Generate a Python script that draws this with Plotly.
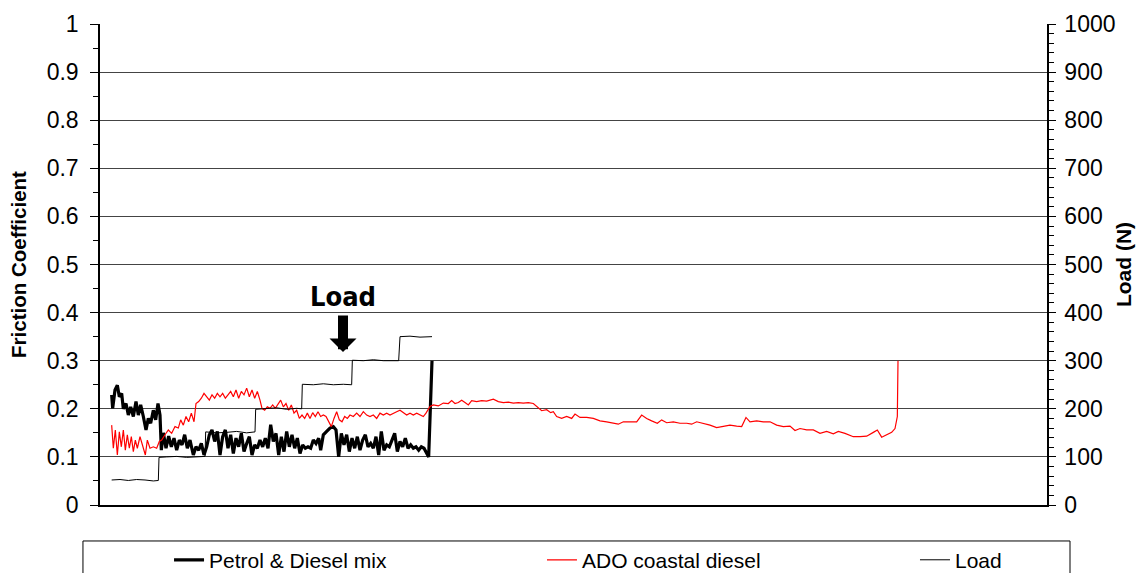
import plotly.graph_objects as go

# ---------------- data (time in arbitrary sample units) ----------------
petrol_t = [65, 68, 75, 82, 88, 95, 100, 108, 115, 122, 130, 138, 145, 152, 160, 168, 175, 182, 190, 197,
            204, 210, 214, 220, 228, 236, 244, 252, 260, 268, 276, 284, 292, 300, 310, 318, 326, 334, 342,
            350, 358, 366, 374, 382, 390, 398, 406, 414, 422, 430, 438, 446, 454, 462, 470, 478, 486, 494,
            502, 510, 518, 526, 534, 542, 550, 558, 566, 574, 582, 590, 598, 606, 614, 622, 630, 638, 646,
            654, 662, 670, 678, 686, 692, 700, 710, 720, 730, 738, 746, 754, 762, 770, 778, 786, 794, 802,
            810, 818, 826, 834, 842, 850, 858, 866, 874, 882, 890, 898, 906, 914, 922, 930, 938, 946, 954,
            962, 970, 978, 986, 994, 1002, 1010, 1016, 1026]
petrol_mu = [0.229, 0.201, 0.239, 0.249, 0.225, 0.232, 0.200, 0.211, 0.187, 0.204, 0.184, 0.215, 0.187, 0.208,
             0.184, 0.156, 0.180, 0.170, 0.197, 0.177, 0.211, 0.187, 0.114, 0.150, 0.118, 0.143, 0.121, 0.139,
             0.114, 0.135, 0.125, 0.146, 0.118, 0.135, 0.104, 0.121, 0.114, 0.128, 0.104, 0.121, 0.146, 0.156,
             0.132, 0.153, 0.104, 0.142, 0.156, 0.118, 0.146, 0.107, 0.139, 0.121, 0.149, 0.111, 0.128, 0.142,
             0.104, 0.125, 0.118, 0.135, 0.121, 0.139, 0.118, 0.167, 0.132, 0.149, 0.104, 0.142, 0.111, 0.153,
             0.121, 0.146, 0.118, 0.139, 0.107, 0.125, 0.118, 0.121, 0.118, 0.135, 0.128, 0.139, 0.114, 0.146,
             0.153, 0.160, 0.163, 0.156, 0.100, 0.149, 0.125, 0.146, 0.111, 0.139, 0.118, 0.142, 0.114, 0.135,
             0.146, 0.121, 0.128, 0.118, 0.142, 0.104, 0.153, 0.114, 0.125, 0.121, 0.135, 0.149, 0.111, 0.132,
             0.121, 0.139, 0.118, 0.125, 0.118, 0.121, 0.114, 0.121, 0.118, 0.107, 0.100, 0.300]

ado_t = [65, 70, 76, 82, 88, 94, 100, 106, 112, 118,
         124, 130, 136, 142, 150, 158, 166, 172, 180, 190,
         200, 208, 215, 225, 235, 245, 255, 265, 272, 280,
         288, 296, 304, 312, 318, 326, 334, 342, 350, 358,
         366, 374, 382, 390, 398, 406, 414, 422, 430, 438,
         446, 454, 462, 470, 478, 486, 494, 502, 510, 516,
         524, 532, 540, 548, 556, 564, 572, 580, 588, 596,
         604, 612, 620, 628, 636, 644, 652, 660, 668, 676,
         684, 692, 700, 708, 716, 724, 732, 740, 748, 756,
         764, 772, 780, 790, 800, 810, 820, 830, 840, 850,
         860, 870, 880, 890, 900, 910, 920, 930, 940, 950,
         960, 970, 980, 990, 1000, 1008,
         1020, 1030, 1045, 1060, 1075, 1085, 1095, 1105, 1115, 1125,
         1135, 1145, 1160, 1175, 1190, 1210, 1225, 1240, 1255, 1270,
         1285, 1300, 1315, 1330, 1345, 1355, 1370, 1382, 1390, 1400,
         1415, 1430, 1445, 1455, 1470, 1490, 1510, 1530, 1550, 1570,
         1585, 1600, 1620, 1640, 1655, 1670, 1685, 1702, 1715, 1730,
         1750, 1770, 1790, 1805, 1820, 1840, 1860, 1880, 1900, 1920,
         1940, 1955, 1968, 1980, 2000, 2020, 2040, 2060, 2080, 2100,
         2115, 2130, 2150, 2170, 2190, 2210, 2230, 2245, 2265, 2290,
         2310, 2330, 2350, 2362, 2375, 2390, 2405, 2415, 2422, 2424]
ado_mu = [0.166, 0.118, 0.156, 0.104, 0.152, 0.121, 0.156, 0.114, 0.146, 0.118,
          0.142, 0.111, 0.135, 0.118, 0.142, 0.125, 0.104, 0.135, 0.118, 0.121,
          0.118, 0.132, 0.135, 0.146, 0.156, 0.149, 0.163, 0.160, 0.177, 0.166,
          0.184, 0.173, 0.191, 0.173, 0.211, 0.215, 0.222, 0.232, 0.225, 0.218,
          0.229, 0.222, 0.232, 0.225, 0.232, 0.222, 0.229, 0.236, 0.225, 0.239,
          0.222, 0.236, 0.229, 0.243, 0.225, 0.239, 0.222, 0.236, 0.218, 0.201,
          0.197, 0.204, 0.201, 0.208, 0.201, 0.211, 0.218, 0.204, 0.211, 0.197,
          0.208, 0.191, 0.197, 0.180, 0.187, 0.180, 0.191, 0.180, 0.192, 0.184,
          0.194, 0.184, 0.187, 0.184, 0.173, 0.163, 0.180, 0.194, 0.177, 0.173,
          0.184, 0.180, 0.187, 0.184, 0.191, 0.184, 0.194, 0.187, 0.184, 0.187,
          0.180, 0.191, 0.187, 0.191, 0.187, 0.191, 0.194, 0.197, 0.191, 0.187,
          0.191, 0.187, 0.191, 0.187, 0.184, 0.191,
          0.205, 0.208, 0.206, 0.212, 0.211, 0.217, 0.211, 0.213, 0.218, 0.213,
          0.208, 0.217, 0.215, 0.217, 0.216, 0.220, 0.215, 0.213, 0.214, 0.212,
          0.213, 0.212, 0.213, 0.211, 0.201, 0.196, 0.198, 0.192, 0.194, 0.184,
          0.180, 0.184, 0.180, 0.189, 0.182, 0.182, 0.180, 0.175, 0.173, 0.171,
          0.168, 0.173, 0.173, 0.173, 0.187, 0.180, 0.175, 0.170, 0.177, 0.171,
          0.173, 0.170, 0.170, 0.168, 0.173, 0.170, 0.166, 0.161, 0.163, 0.166,
          0.164, 0.163, 0.182, 0.173, 0.175, 0.173, 0.173, 0.166, 0.163, 0.164,
          0.155, 0.159, 0.156, 0.156, 0.149, 0.153, 0.148, 0.153, 0.149, 0.142,
          0.142, 0.143, 0.151, 0.156, 0.141, 0.146, 0.151, 0.159, 0.184, 0.300]

load_t = [65, 90, 115, 140, 165, 190, 205, 207, 230, 260, 290, 320, 345, 347, 380, 410, 440, 470, 495,
          497, 530, 560, 590, 620, 635, 637, 670, 700, 730, 760, 785, 787, 820, 850, 880, 910, 926, 930,
          960, 990, 1026]
load_n = [52, 53, 51, 53, 52, 50, 51, 99, 100, 101, 99, 100, 101, 152, 150, 151, 153, 150, 152,
          199, 200, 202, 199, 201, 200, 251, 250, 252, 250, 251, 250, 301, 300, 302, 300, 301, 300, 350,
          351, 349, 350]

series_names = ["Petrol & Diesel mix", "ADO coastal diesel", "Load"]
left_ticks = [0, 0.1, 0.2, 0.3, 0.4, 0.5, 0.6, 0.7, 0.8, 0.9, 1]
right_ticks = [0, 100, 200, 300, 400, 500, 600, 700, 800, 900, 1000]
arrow_t, arrow_mu = 759, 0.318

FONT = "Liberation Sans, Arial, sans-serif"

fig = go.Figure()
fig.add_trace(go.Scatter(x=petrol_t, y=petrol_mu, name=series_names[0], mode="lines",
                         line=dict(color="black", width=3.2), legend="legend"))
fig.add_trace(go.Scatter(x=ado_t, y=ado_mu, name=series_names[1], mode="lines",
                         line=dict(color="#ff0000", width=1.2), legend="legend2"))
fig.add_trace(go.Scatter(x=load_t, y=load_n, name=series_names[2], mode="lines", yaxis="y2",
                         line=dict(color="black", width=1), legend="legend3"))

leg_common = dict(orientation="h", xanchor="left", y=-0.072, yanchor="top",
                  font=dict(size=21), bgcolor="rgba(0,0,0,0)", borderwidth=0)

fig.update_layout(
    width=1145, height=573,
    margin=dict(l=100, r=98, t=24, b=68, autoexpand=False),
    plot_bgcolor="white", paper_bgcolor="white",
    font=dict(family=FONT, color="black", size=23),
    xaxis=dict(range=[30, 2871], showgrid=False, zeroline=False, showticklabels=False,
               ticks="", showline=True, linecolor="black", linewidth=1.5),
    yaxis=dict(range=[0, 1], tickvals=left_ticks, ticktext=[f"{v:g}" for v in left_ticks],
               showgrid=True, gridcolor="#444", gridwidth=1, zeroline=False,
               showline=True, linecolor="black", linewidth=1.5,
               ticks="outside", ticklen=8, tickcolor="black", ticklabelstandoff=7,
               minor=dict(dtick=0.05, ticks="outside", ticklen=5, tickcolor="black", showgrid=False),
               tickfont=dict(size=23),
               title=dict(text="<b>Friction Coefficient</b>", font=dict(size=20.5), standoff=14)),
    yaxis2=dict(range=[0, 1000], tickvals=right_ticks, overlaying="y", side="right",
                showgrid=False, zeroline=False, showline=True, linecolor="black", linewidth=1.5,
                ticks="outside", ticklen=7, tickcolor="black", ticklabelstandoff=4,
                minor=dict(dtick=20, ticks="outside", ticklen=5, tickcolor="black", showgrid=False),
                tickfont=dict(size=23),
                title=dict(text="<b>Load (N)</b>", font=dict(size=21), standoff=2)),
    legend=dict(x=0.0729, **leg_common),
    legend2=dict(x=0.4667, **leg_common),
    legend3=dict(x=0.8606, **leg_common),
    showlegend=True,
)

# legend frame
fig.add_shape(type="rect", xref="paper", yref="paper", x0=-0.018, x1=1.0243, y0=-0.0748, y1=-0.16,
              line=dict(color="black", width=1), fillcolor="rgba(0,0,0,0)", layer="above")

# "Load" label with arrow
fig.add_annotation(x=arrow_t, y=arrow_mu, xref="x", yref="y", text="", showarrow=True,
                   ax=0, ay=-38, arrowhead=1, arrowwidth=10, arrowsize=0.45, arrowcolor="black")
fig.add_annotation(x=arrow_t, y=arrow_mu, xref="x", yref="y", text="<b>Load</b>", showarrow=False,
                   yshift=56, font=dict(family="DejaVu Sans Condensed, Liberation Sans Narrow, sans-serif",
                                        size=27, color="black"))

fig.write_html("out.html", config={"displayModeBar": False},
               post_script="document.body.style.margin='0';document.body.style.overflow='hidden';")
